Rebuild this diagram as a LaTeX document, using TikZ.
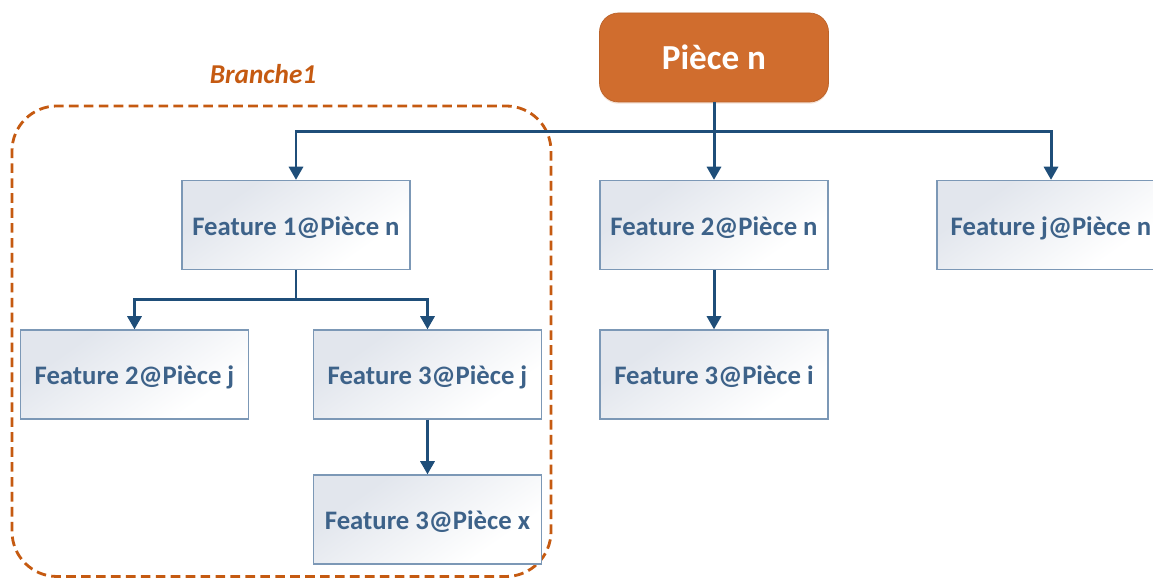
\documentclass[tikz,border=0pt]{standalone}
\usepackage{fontspec}
\setmainfont{Carlito}
\usepackage{xcolor}
\usetikzlibrary{arrows.meta,positioning,calc,shadows}

\definecolor{piecefill}{HTML}{D06D2E}
\definecolor{branchorange}{HTML}{C55A11}
\definecolor{featuretext}{HTML}{3D6289}
\definecolor{featureborder}{HTML}{7C98B6}
\definecolor{featureshade}{HTML}{E2E6ED}
\definecolor{linkblue}{HTML}{1F4E79}

\pgfdeclareverticalshading{featureshading}{100bp}{color(0bp)=(white); color(30bp)=(white); color(70bp)=(featureshade); color(100bp)=(featureshade)}

\tikzset{
    piece/.style={draw=piecefill!90!black, fill=piecefill, rounded corners=0.38cm,
        minimum width=4.58cm, minimum height=1.78cm, inner sep=0pt,
        text=white, font=\fontsize{20}{24}\selectfont\bfseries,
        drop shadow={shadow xshift=0pt, shadow yshift=-1pt, fill=piecefill!40, opacity=0.5}},
    feature/.style={draw=featureborder, line width=0.7pt,
        shading=featureshading, shading angle=35,
        minimum width=4.56cm, minimum height=1.78cm, inner sep=0pt,
        text height=13.4pt, text depth=2pt,
        text=featuretext, font=\fontsize{15.2}{18}\selectfont\bfseries},
    link/.style={draw=linkblue, line width=1.7pt},
    linkarrow/.style={link, -{Triangle[width=8pt,length=7.5pt]}},
    branchbox/.style={draw=branchorange, line width=1.6pt, dashed,
        dash pattern=on 5.5pt off 3pt, rounded corners=0.9cm},
}

\begin{document}
\begin{tikzpicture}
    \useasboundingbox (0,0) rectangle (23.06,11.56);

    % Branche 1 frame
    \draw[branchbox] (0.24,0.03) rectangle (11.02,9.44);
    \node[text=branchorange, font=\fontsize{15.5}{18}\selectfont\bfseries\itshape] (branchlabel) at (5.26,10.08) {Branche1};

    % Nodes
    \node[piece] (piecen) at (14.28,10.41) {Pièce n};

    \node[feature] (f1pn) at (5.92,7.06) {Feature 1@Pièce n};
    \node[feature] (f2pn) at (14.28,7.06) {Feature 2@Pièce n};
    \node[feature] (fjpn) at (21.02,7.06) {Feature j@Pièce n};

    \node[feature] (f2pj) at (2.69,4.07) {Feature 2@Pièce j};
    \node[feature] (f3pj) at (8.55,4.07) {Feature 3@Pièce j};
    \node[feature] (f3pi) at (14.28,4.07) {Feature 3@Pièce i};

    \node[feature] (f3px) at (8.55,1.17) {Feature 3@Pièce x};

    % Links from Pièce n
    \coordinate (splitn) at (14.28,8.92);
    \draw[link] (piecen.south) -- (splitn);
    \draw[linkarrow] (splitn) -| (f1pn.north);
    \draw[linkarrow] (splitn) -- (f2pn.north);
    \draw[linkarrow] (splitn) -| (fjpn.north);

    % Links from Feature 1
    \coordinate (splitf1) at (5.92,5.56);
    \draw[link] (f1pn.south) -- (splitf1);
    \draw[linkarrow] (splitf1) -| (f2pj.north);
    \draw[linkarrow] (splitf1) -| (f3pj.north);

    \draw[linkarrow] (f3pj.south) -- (f3px.north);
    \draw[linkarrow] (f2pn.south) -- (f3pi.north);
\end{tikzpicture}
\end{document}
